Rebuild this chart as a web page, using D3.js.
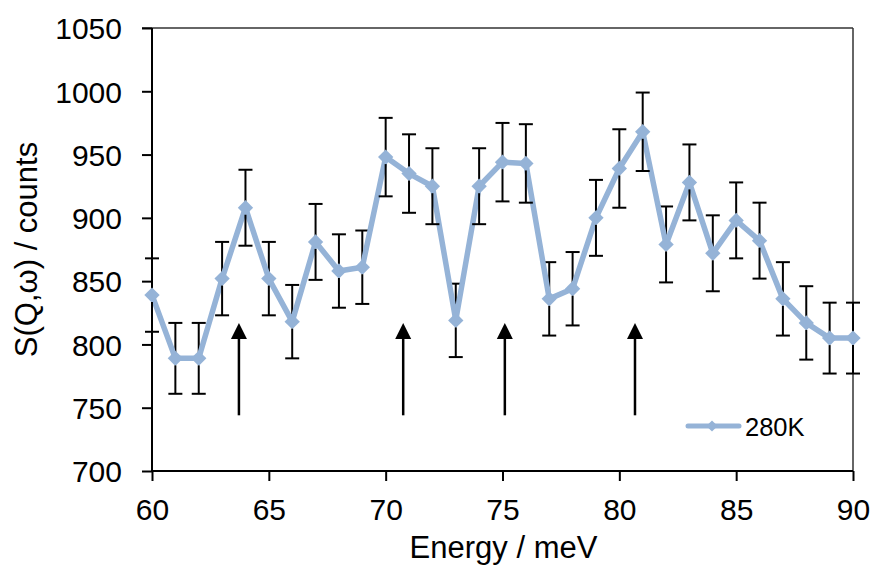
<!DOCTYPE html>
<html><head><meta charset="utf-8">
<script src="https://cdn.jsdelivr.net/npm/d3@7"></script>
<style>body{margin:0;background:#fff}svg{display:block}text{font-family:"Liberation Sans",Arial,sans-serif;fill:#000}</style>
</head><body><svg id="c" width="872" height="565"></svg>
<script>
const energy = [60,61,62,63,64,65,66,67,68,69,70,71,72,73,74,75,76,77,78,79,80,81,82,83,84,85,86,87,88,89,90];
const counts = [839,789,789,852,908,852,818,881,858,861,948,935,925,819,925,944,943,836,844,900,939,968,879,928,872,898,882,836,817,805,805];
const errors = [29,28,28,29,30,29,29,30,29,29,31,31,30,29,30,31,31,29,29,30,31,31,30,30,30,30,30,29,29,28,28];
const arrowX = [63.72,70.75,75.1,80.67];
const arrowTip = 817, arrowTail = 744;
const xTicks = [60,65,70,75,80,85,90];
const yTicks = [700,750,800,850,900,950,1000,1050];
const seriesName = "280K";

const svg = d3.select("#c");
const L=152,R=853,T=28,B=471;
const x = d3.scaleLinear().domain([60,90]).range([L,R]);
const y = d3.scaleLinear().domain([700,1050]).range([B,T]);

// border top/right
svg.append("line").attr("x1",L-10).attr("x2",R).attr("y1",T).attr("y2",T).attr("stroke","#333").attr("stroke-width",1.5);
svg.append("line").attr("x1",R).attr("x2",R).attr("y1",T).attr("y2",B).attr("stroke","#333").attr("stroke-width",1.5);

// axes
const ya = svg.append("g").attr("transform",`translate(${L},0)`).call(d3.axisLeft(y).tickValues(yTicks).tickFormat(d3.format("d")).tickSize(10).tickPadding(20));
const xa = svg.append("g").attr("transform",`translate(0,${B})`).call(d3.axisBottom(x).tickValues(xTicks).tickFormat(d3.format("d")).tickSize(10).tickPadding(18));
[ya,xa].forEach(g=>{
  g.attr("font-size",30).attr("font-family","Liberation Sans, Arial, sans-serif");
  g.select(".domain").attr("stroke","#000").attr("stroke-width",2);
  g.selectAll(".tick line").attr("stroke","#000").attr("stroke-width",2);
  g.selectAll(".tick text").attr("font-size",30).attr("fill","#000");
});
ya.selectAll(".tick text").attr("dy","0.36em");
ya.select(".domain").attr("d",`M0,${B}V${T}`);
xa.select(".domain").attr("d",`M${L},0H${R}`);

// axis titles
svg.append("text").attr("transform",`translate(37,${(T+B)/2}) rotate(-90)`).attr("text-anchor","middle").attr("font-size",31).text("S(Q,ω) / counts");
svg.append("text").attr("x",(L+R)/2+1).attr("y",558).attr("text-anchor","middle").attr("font-size",31).text("Energy / meV");

// arrows
const ag = svg.append("g");
arrowX.forEach(a=>{
  const xp = x(a), tip=y(arrowTip), tail=y(arrowTail);
  ag.append("line").attr("x1",xp).attr("x2",xp).attr("y1",tip+12).attr("y2",tail).attr("stroke","#000").attr("stroke-width",2.5);
  ag.append("path").attr("d",`M${xp},${tip}L${xp+8},${tip+16}L${xp-8},${tip+16}Z`).attr("fill","#000");
});

// error bars (upper half beneath the series)
const ebUp = svg.append("g");
const col="#95B3D7";
const seriesG = svg.append("g");
const ebDown = svg.append("g");
energy.forEach((e,i)=>{
  const xp=x(e), yc=y(counts[i]), y1=y(counts[i]+errors[i]), y2=y(counts[i]-errors[i]);
  ebUp.append("line").attr("x1",xp).attr("x2",xp).attr("y1",y1).attr("y2",yc).attr("stroke","#000").attr("stroke-width",2);
  ebUp.append("line").attr("x1",xp-7).attr("x2",xp+7).attr("y1",y1).attr("y2",y1).attr("stroke","#000").attr("stroke-width",2);
  ebDown.append("line").attr("x1",xp).attr("x2",xp).attr("y1",yc+7).attr("y2",y2).attr("stroke","#000").attr("stroke-width",2);
  ebDown.append("line").attr("x1",xp-7).attr("x2",xp+7).attr("y1",y2).attr("y2",y2).attr("stroke","#000").attr("stroke-width",2);
});

// line
seriesG.append("path").datum(energy.map((e,i)=>[e,counts[i]]))
  .attr("d",d3.line().x(d=>x(d[0])).y(d=>y(d[1])))
  .attr("fill","none").attr("stroke",col).attr("stroke-width",5.5).attr("stroke-linejoin","round");
const diamond = d3.symbol().type(d3.symbolDiamond2).size(150);
seriesG.append("g").selectAll("path").data(energy).join("path")
  .attr("transform",(e,i)=>`translate(${x(e)},${y(counts[i])})`).attr("d",diamond).attr("fill",col);

// legend
svg.append("line").attr("x1",688).attr("x2",739).attr("y1",426).attr("y2",426).attr("stroke",col).attr("stroke-width",5).attr("stroke-linecap","round");
svg.append("path").attr("transform","translate(712,426)").attr("d",d3.symbol().type(d3.symbolDiamond2).size(80)).attr("fill",col);
svg.append("text").attr("x",745).attr("y",436).attr("font-size",25.5).text(seriesName);
</script></body></html>
